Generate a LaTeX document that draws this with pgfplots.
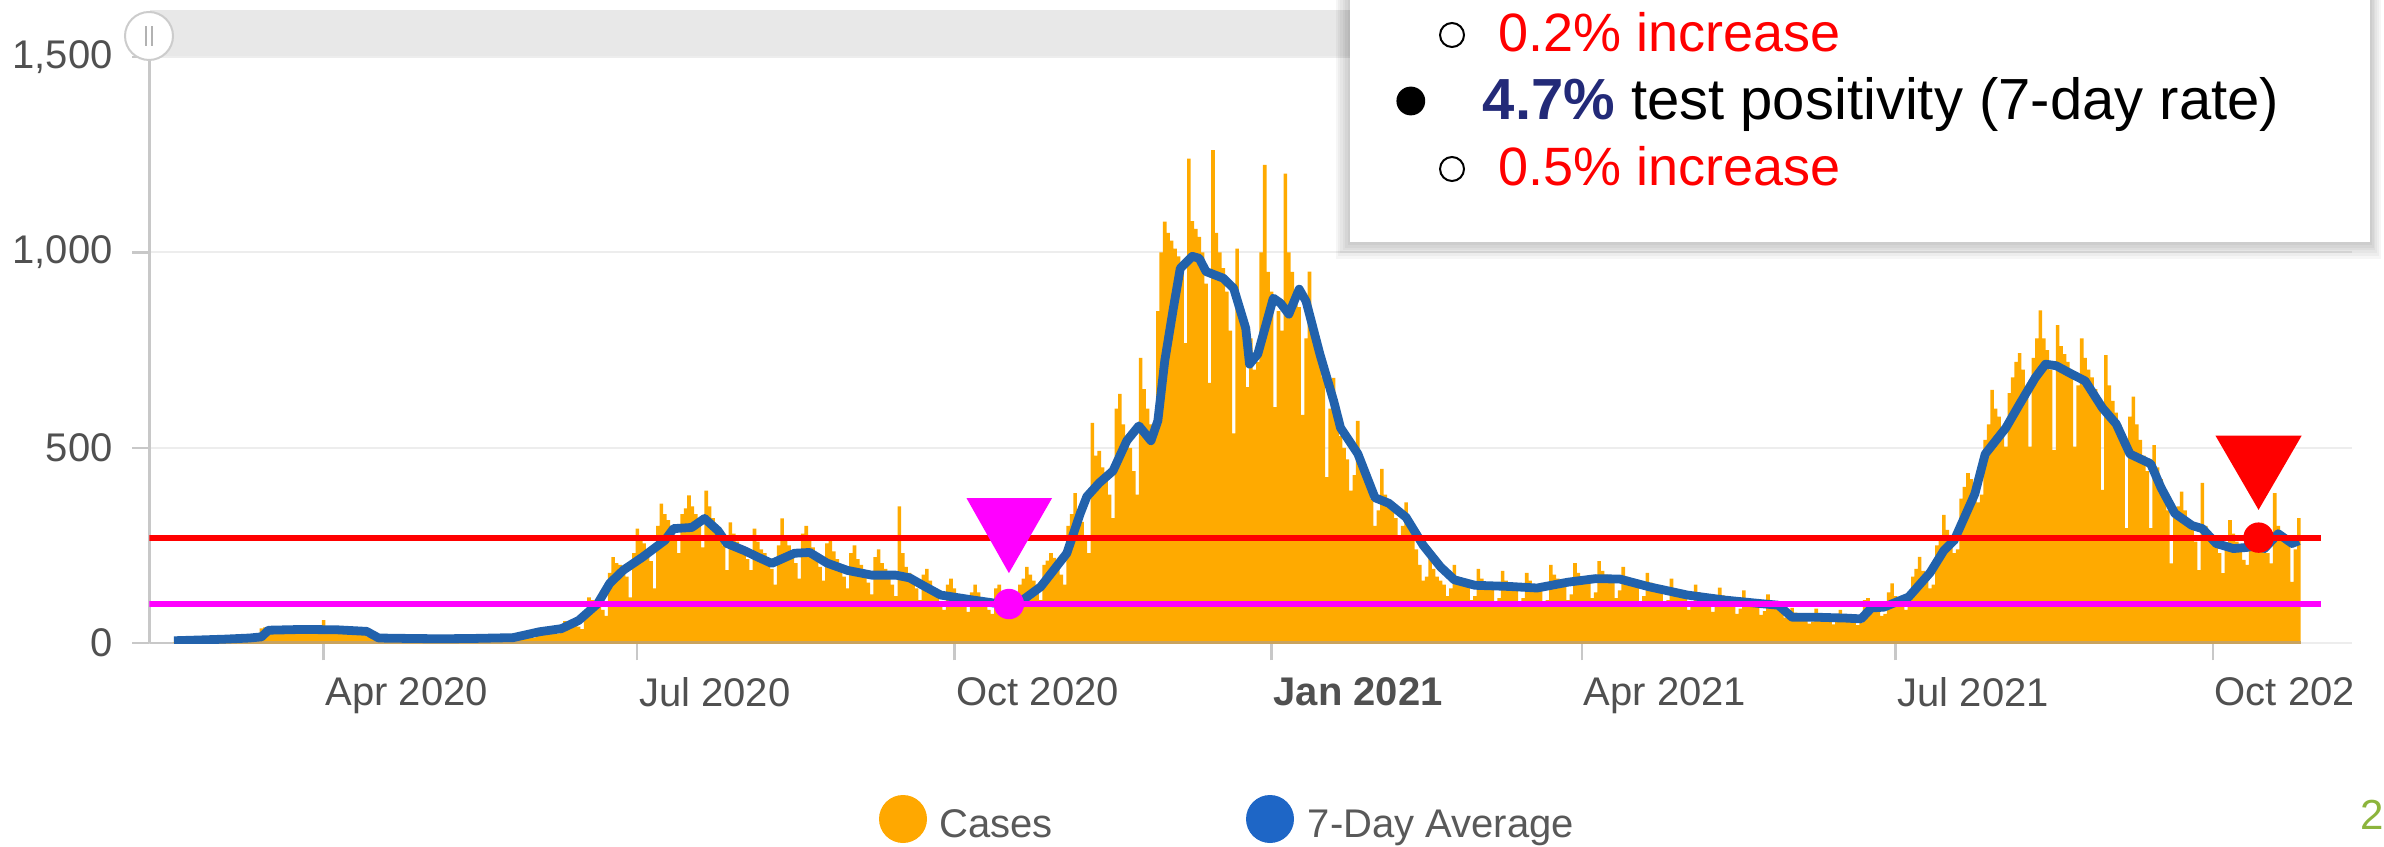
\documentclass[border=0pt]{standalone}
\usepackage{pgfplots}
\pgfplotsset{compat=1.18}
\usepackage{fontspec}
\setmainfont{Liberation Sans}
\definecolor{barorange}{HTML}{FFAA00}
\definecolor{legorange}{HTML}{FFA800}
\definecolor{avgblue}{HTML}{2262AC}
\definecolor{legblue}{HTML}{1E66C6}
\definecolor{ticktext}{HTML}{505050}
\definecolor{legtext}{HTML}{595959}
\definecolor{navy}{HTML}{232A78}
\definecolor{pagegreen}{HTML}{8CB43C}
\definecolor{axisgrey}{HTML}{C8C8C8}
\definecolor{gridgrey}{HTML}{EDEDED}
\definecolor{bartan}{HTML}{C9A35E}
\definecolor{scrollgrey}{HTML}{E8E8E8}
\definecolor{mag}{HTML}{FF00FF}
\definecolor{pured}{HTML}{FF0000}
\begin{document}
\begin{tikzpicture}
\path[use as bounding box] (0,0) rectangle (596pt,211.5pt);
% scroll bar
\fill[scrollgrey] (37.4pt,197.25pt) rectangle (588pt,209pt);
\begin{axis}[
  at={(37.375pt,50.725pt)}, anchor=south west,
  scale only axis, width=550.7pt, height=146.5pt,
  xmin=40.5, xmax=679.5, ymin=0, ymax=1500,
  axis x line*=bottom, axis y line*=left,
  axis line style={-, draw=axisgrey, line width=0.7pt},
  x axis line style={draw=none},
  xtick={91,182,274,366,456,547,639},
  xticklabels={Apr 2020,Jul 2020,Oct 2020,\textbf{Jan 2021},Apr 2021,Jul 2021,Oct 2021},
  ytick={0,500,1000,1500},
  yticklabels={0,500,{1,000},{1,500}},
  tick align=outside, major tick length=4.3pt,
  tick style={axisgrey, line width=0.6pt},
  ymajorgrids, major grid style={gridgrey, line width=0.5pt},
  tick label style={font=\fontsize{10}{12}\selectfont, text=ticktext},
  xticklabel style={anchor=north west, inner sep=0pt, xshift=0.3pt, yshift=-4.2pt},
  yticklabel style={anchor=east, inner sep=0pt, xshift=-4.7pt},
]
\addplot[axisgrey, line width=0.7pt] coordinates {(40.5,0) (48,0)};
\addplot[ybar, bar width=1.04, bar shift=0pt, fill=barorange, draw=none] coordinates {
(48,3)(49,5)(50,8)(51,7)(52,9)(53,6)(54,5)
(55,6)(56,9)(57,10)(58,9)(59,8)(60,7)(61,6)
(62,8)(63,12)(64,13)(65,12)(66,11)(67,9)(68,8)
(69,11)(70,14)(71,15)(72,18)(73,38)(74,40)(75,36)
(76,40)(77,42)(78,38)(79,34)(80,32)(81,30)(82,28)
(83,36)(84,44)(85,40)(86,36)(87,33)(88,30)(89,26)
(90,38)(91,59)(92,42)(93,36)(94,32)(95,28)(96,24)
(97,34)(98,38)(99,35)(100,32)(101,28)(102,25)(103,22)
(104,16)(105,15)(106,13)(107,12)(108,11)(109,10)(110,8)
(111,13)(112,15)(113,14)(114,12)(115,11)(116,10)(117,8)
(118,12)(119,14)(120,13)(121,12)(122,10)(123,9)(124,7)
(125,12)(126,14)(127,13)(128,12)(129,11)(130,9)(131,7)
(132,13)(133,15)(134,14)(135,13)(136,12)(137,10)(138,8)
(139,14)(140,17)(141,16)(142,14)(143,13)(144,11)(145,9)
(146,19)(147,24)(148,23)(149,21)(150,20)(151,17)(152,14)
(153,30)(154,38)(155,36)(156,34)(157,32)(158,28)(159,24)
(160,45)(161,56)(162,54)(163,52)(164,50)(165,42)(166,36)
(167,80)(168,117)(169,110)(170,105)(171,100)(172,85)(173,70)
(174,180)(175,220)(176,205)(177,200)(178,190)(179,170)(180,117)
(181,230)(182,293)(183,270)(184,255)(185,240)(186,210)(187,140)
(188,300)(189,357)(190,330)(191,315)(192,300)(193,270)(194,230)
(195,330)(196,345)(197,378)(198,350)(199,330)(200,300)(201,245)
(202,390)(203,350)(204,320)(205,300)(206,285)(207,250)(208,187)
(209,309)(210,280)(211,260)(212,250)(213,235)(214,215)(215,187)
(216,293)(217,260)(218,240)(219,230)(220,215)(221,190)(222,150)
(223,250)(224,319)(225,270)(226,250)(227,235)(228,205)(229,165)
(230,280)(231,300)(232,265)(233,245)(234,225)(235,195)(236,160)
(237,255)(238,270)(239,235)(240,215)(241,200)(242,170)(243,140)
(244,230)(245,250)(246,215)(247,200)(248,180)(249,155)(250,125)
(251,220)(252,240)(253,205)(254,190)(255,175)(256,150)(257,120)
(258,350)(259,230)(260,195)(261,180)(262,165)(263,140)(264,110)
(265,175)(266,190)(267,160)(268,140)(269,125)(270,105)(271,85)
(272,150)(273,165)(274,140)(275,125)(276,115)(277,95)(278,80)
(279,130)(280,150)(281,130)(282,115)(283,105)(284,85)(285,75)
(286,140)(287,150)(288,130)(289,110)(290,100)(291,85)(292,80)
(293,150)(294,165)(295,195)(296,175)(297,160)(298,140)(299,110)
(300,200)(301,211)(302,230)(303,218)(304,200)(305,175)(306,150)
(307,300)(308,330)(309,384)(310,340)(311,310)(312,270)(313,230)
(314,564)(315,480)(316,492)(317,450)(318,420)(319,380)(320,320)
(321,600)(322,638)(323,560)(324,530)(325,500)(326,440)(327,380)
(328,730)(329,650)(330,600)(331,560)(332,520)(333,850)(334,1000)
(335,1079)(336,1050)(337,1030)(338,1010)(339,990)(340,950)(341,768)
(342,1240)(343,1080)(344,1060)(345,1040)(346,1000)(347,920)(348,666)
(349,1262)(350,1050)(351,1000)(352,960)(353,900)(354,800)(355,537)
(356,1010)(357,870)(358,820)(359,655)(360,780)(361,700)(362,720)
(363,1000)(364,1224)(365,950)(366,900)(367,604)(368,850)(369,800)
(370,1202)(371,1000)(372,950)(373,900)(374,860)(375,584)(376,780)
(377,951)(378,800)(379,760)(380,720)(381,680)(382,425)(383,600)
(384,679)(385,560)(386,530)(387,500)(388,470)(389,390)(390,430)
(391,569)(392,450)(393,420)(394,400)(395,370)(396,300)(397,340)
(398,446)(399,380)(400,360)(401,340)(402,320)(403,270)(404,300)
(405,360)(406,320)(407,280)(408,240)(409,200)(410,160)(411,170)
(412,230)(413,190)(414,170)(415,160)(416,150)(417,120)(418,140)
(419,200)(420,170)(421,160)(422,150)(423,145)(424,110)(425,120)
(426,190)(427,165)(428,155)(429,145)(430,140)(431,105)(432,115)
(433,185)(434,160)(435,150)(436,140)(437,140)(438,100)(439,115)
(440,180)(441,160)(442,150)(443,140)(444,135)(445,100)(446,110)
(447,200)(448,175)(449,165)(450,155)(451,150)(452,110)(453,125)
(454,205)(455,180)(456,170)(457,160)(458,155)(459,115)(460,130)
(461,210)(462,185)(463,175)(464,165)(465,155)(466,115)(467,135)
(468,195)(469,170)(470,160)(471,150)(472,145)(473,105)(474,120)
(475,180)(476,155)(477,145)(478,135)(479,130)(480,95)(481,110)
(482,165)(483,140)(484,130)(485,122)(486,115)(487,85)(488,100)
(489,150)(490,130)(491,120)(492,112)(493,105)(494,80)(495,92)
(496,142)(497,122)(498,112)(499,105)(500,100)(501,75)(502,88)
(503,135)(504,115)(505,108)(506,100)(507,95)(508,72)(509,82)
(510,125)(511,105)(512,98)(513,92)(514,88)(515,65)(516,75)
(517,90)(518,78)(519,72)(520,68)(521,64)(522,50)(523,55)
(524,88)(525,76)(526,70)(527,66)(528,62)(529,48)(530,54)
(531,85)(532,74)(533,68)(534,64)(535,60)(536,46)(537,52)
(538,110)(539,115)(540,100)(541,92)(542,85)(543,70)(544,75)
(545,130)(546,153)(547,120)(548,115)(549,105)(550,85)(551,95)
(552,170)(553,190)(554,221)(555,185)(556,170)(557,140)(558,150)
(559,250)(560,275)(561,328)(562,290)(563,270)(564,230)(565,240)
(566,370)(567,400)(568,435)(569,420)(570,400)(571,360)(572,380)
(573,520)(574,560)(575,648)(576,600)(577,580)(578,540)(579,503)
(580,640)(581,680)(582,720)(583,742)(584,700)(585,650)(586,503)
(587,730)(588,780)(589,852)(590,780)(591,750)(592,700)(593,494)
(594,814)(595,760)(596,740)(597,720)(598,700)(599,503)(600,660)
(601,780)(602,730)(603,700)(604,680)(605,650)(606,620)(607,392)
(608,737)(609,660)(610,620)(611,590)(612,560)(613,520)(614,294)
(615,580)(616,631)(617,560)(618,520)(619,480)(620,440)(621,294)
(622,507)(623,450)(624,420)(625,380)(626,340)(627,204)(628,320)
(629,350)(630,388)(631,340)(632,310)(633,290)(634,260)(635,187)
(636,410)(637,300)(638,280)(639,260)(640,245)(641,230)(642,179)
(643,250)(644,315)(645,280)(646,260)(647,240)(648,213)(649,200)
(650,270)(651,280)(652,260)(653,250)(654,240)(655,230)(656,204)
(657,384)(658,300)(659,280)(660,270)(661,260)(662,157)(663,240)
(664,320)
};
\addplot[bartan, line width=1.2pt] coordinates {(47.5,0) (664.5,0)};
\addplot[avgblue, line width=2.2pt, line join=round] coordinates {
(47.6,6) (55,8) (62,10) (69.5,13) (73,16) (75,33) (85,35) (95,34) (103.5,30) (107,13)
(115,12) (125,11) (135,12) (146,14) (153.6,29) (160,37) (165,58) (170.5,101) (174,153)
(178,187) (183.5,220) (190,263) (192.5,293) (197.8,296) (201.5,319) (205.4,288) (208,255)
(213,237) (217,220) (221,204) (227.6,230) (232,232) (237,205) (243,186) (250,174) (257,174)
(261,167) (265,147) (270,123) (279.6,110) (289,98) (293,105) (299,144) (306.6,230)
(310.5,332) (312.4,375) (316,410) (320,441) (324,518) (327.5,556) (331,518) (333,569)
(335,722) (337.5,857) (339.5,959) (343,990) (345,985) (347,951) (352,934) (355,908)
(358.5,806) (359.6,714) (362,740) (366.5,883) (368.6,870) (371,842) (374,906) (376,875)
(380,740) (384,620) (386,551) (391,485) (396,372) (400,358) (405,322) (410,250) (415,195)
(419,162) (425,148) (435,145) (443,141) (452,156) (460,165) (467,164) (475.6,144)
(486.6,123) (497.6,110) (508,101) (513,97) (517,66) (525,66) (532.6,64) (537,62) (540,90)
(543.6,92) (550.8,118) (557,180) (561,237) (564,263) (570,382) (573,484) (579,551)
(583,612) (587.5,679) (590.5,714) (593.6,710) (598,689) (602,671) (607,602) (611,561)
(615,484) (621,459) (624,398) (628,332) (633,301) (636,293) (640,255) (645,242) (649,245)
(652,250) (654,242) (658,280) (662,255) (664,262)
};
\addplot[pured, line width=1.45pt] coordinates {(40.5,270) (670.5,270)};
\addplot[mag, line width=1.45pt] coordinates {(40.5,100) (670.5,100)};
\addplot[fill=mag, draw=none] coordinates {(277.5,371) (302.3,371) (289.8,179)} -- cycle;
\addplot[only marks, mark=*, mark size=3.6pt, mag] coordinates {(289.8,100)};
\addplot[fill=pured, draw=none] coordinates {(639.8,531) (664.8,531) (652.3,341)} -- cycle;
\addplot[only marks, mark=*, mark size=3.6pt, pured] coordinates {(652.3,270)};
\end{axis}
% scroll handle
\filldraw[fill=white, draw=gray!40, line width=0.5pt] (37.25pt,202.5pt) circle (6pt);
\draw[gray!60, line width=0.5pt] (36.4pt,200pt) -- (36.4pt,205pt) (38.1pt,200pt) -- (38.1pt,205pt);
% hide cut part of last label
\fill[white] (588pt,30pt) rectangle (597pt,46pt);
% text box with shadow
\foreach \i in {1,...,6} {
  \fill[black, opacity=0.035] ({337.5pt-\i*0.6pt},{151pt-\i*0.7pt}) rectangle ({592.5pt+\i*0.45pt},215pt);
}
\fill[white] (337.5pt,151pt) rectangle (592.5pt,215pt);
\draw[black, line width=0.5pt] (363pt,202.75pt) circle (3pt);
\fill[black] (352.7pt,186.25pt) circle (3.6pt);
\draw[black, line width=0.5pt] (363pt,169.25pt) circle (3pt);
\node[anchor=base west, inner sep=0pt, font=\fontsize{13.5}{16}\selectfont, text=pured] at (374.5pt,198.6pt) {0.2\% increase};
\node[anchor=base west, inner sep=0pt, font=\fontsize{14.5}{17}\selectfont] at (370.5pt,181.5pt) {\textcolor{navy}{\textbf{4.7\%}} test positivity (7-day rate)};
\node[anchor=base west, inner sep=0pt, font=\fontsize{13.5}{16}\selectfont, text=pured] at (374.5pt,165pt) {0.5\% increase};
% legend
\fill[legorange] (225.75pt,6.75pt) circle (6pt);
\node[anchor=base west, inner sep=0pt, font=\fontsize{10}{12}\selectfont, text=legtext] at (234.6pt,2.25pt) {Cases};
\fill[legblue] (317.5pt,6.75pt) circle (6pt);
\node[anchor=base west, inner sep=0pt, font=\fontsize{10}{12}\selectfont, text=legtext] at (326.75pt,2.25pt) {7-Day Average};
% page number
\node[anchor=base west, inner sep=0pt, font=\fontsize{10.5}{12}\selectfont, text=pagegreen] at (589.8pt,4.25pt) {2};
\end{tikzpicture}
\end{document}
